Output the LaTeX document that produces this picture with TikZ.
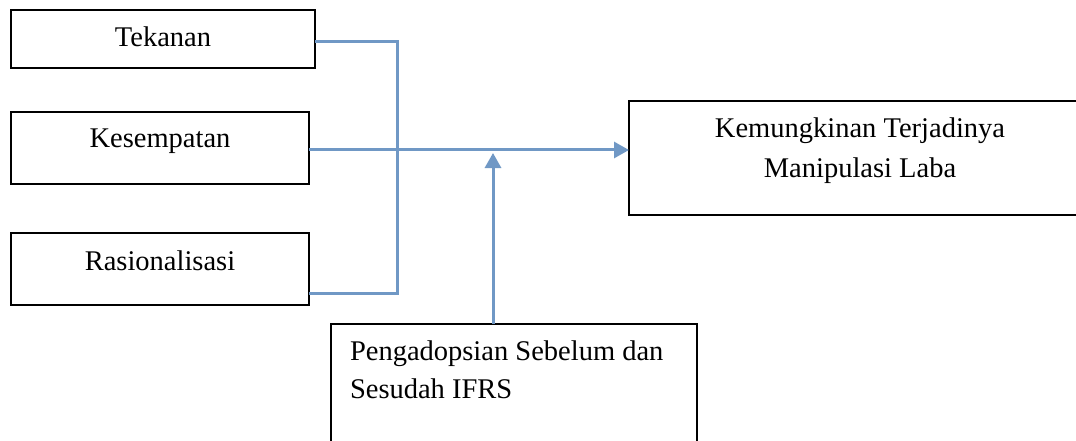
\documentclass[tikz,border=0pt]{standalone}
\usepackage{fontspec}
\setmainfont{Liberation Serif}
\usetikzlibrary{arrows.meta}
\definecolor{conn}{RGB}{112,152,197}
\tikzset{
  box/.style={draw=black, line width=1.8pt, rectangle, inner sep=0pt, outer sep=0pt},
  txt/.style={inner sep=0pt, outer sep=0pt, anchor=base, font=\fontsize{28.5}{39}\selectfont},
  txtl/.style={txt, anchor=base west},
  link/.style={draw=conn, line width=3pt},
  arr/.style={link, -{Triangle[length=15pt,width=16pt]}}
}
\begin{document}
\begin{tikzpicture}[x=1pt,y=-1pt]
\useasboundingbox (0,0) rectangle (1076,441);
\clip (0,0) rectangle (1076,441);
\fill[white] (0,0) rectangle (1076,441);
% boxes
\node[box, minimum width=304pt, minimum height=58pt] (tek) at (163,39) {};
\node[box, minimum width=298pt, minimum height=72pt] (kes) at (160,148) {};
\node[box, minimum width=298pt, minimum height=72pt] (ras) at (160,269) {};
\node[box, minimum width=462pt, minimum height=114pt] (kem) at (860,158) {};
\node[box, minimum width=366pt, minimum height=140pt] (pen) at (514,394) {};
% texts
\node[txt] (tTek) at (163,47) {Tekanan};
\node[txt] (tKes) at (160,148) {Kesempatan};
\node[txt] (tRas) at (160,270) {Rasionalisasi};
\node[txt] (tKem1) at (860,138) {Kemungkinan Terjadinya};
\node[txt] (tKem2) at (860,177) {Manipulasi Laba};
\node[txtl] (tPen1) at (350,360) {Pengadopsian Sebelum dan};
\node[txtl] (tPen2) at (350,398) {Sesudah IFRS};
% connectors
\coordinate (bt) at (397,42);
\coordinate (bb) at (397,293);
\coordinate (mod) at (493,153);
\draw[link, line join=miter] ([yshift=-3pt]tek.east) -- (bt) -- (bb) -- (bb -| ras.east);
\draw[arr] ([yshift=-2pt]kes.east) -- ([yshift=-2pt]kes.east -| kem.west);
\draw[arr] (pen.north -| mod) -- (mod);
\end{tikzpicture}
\end{document}
